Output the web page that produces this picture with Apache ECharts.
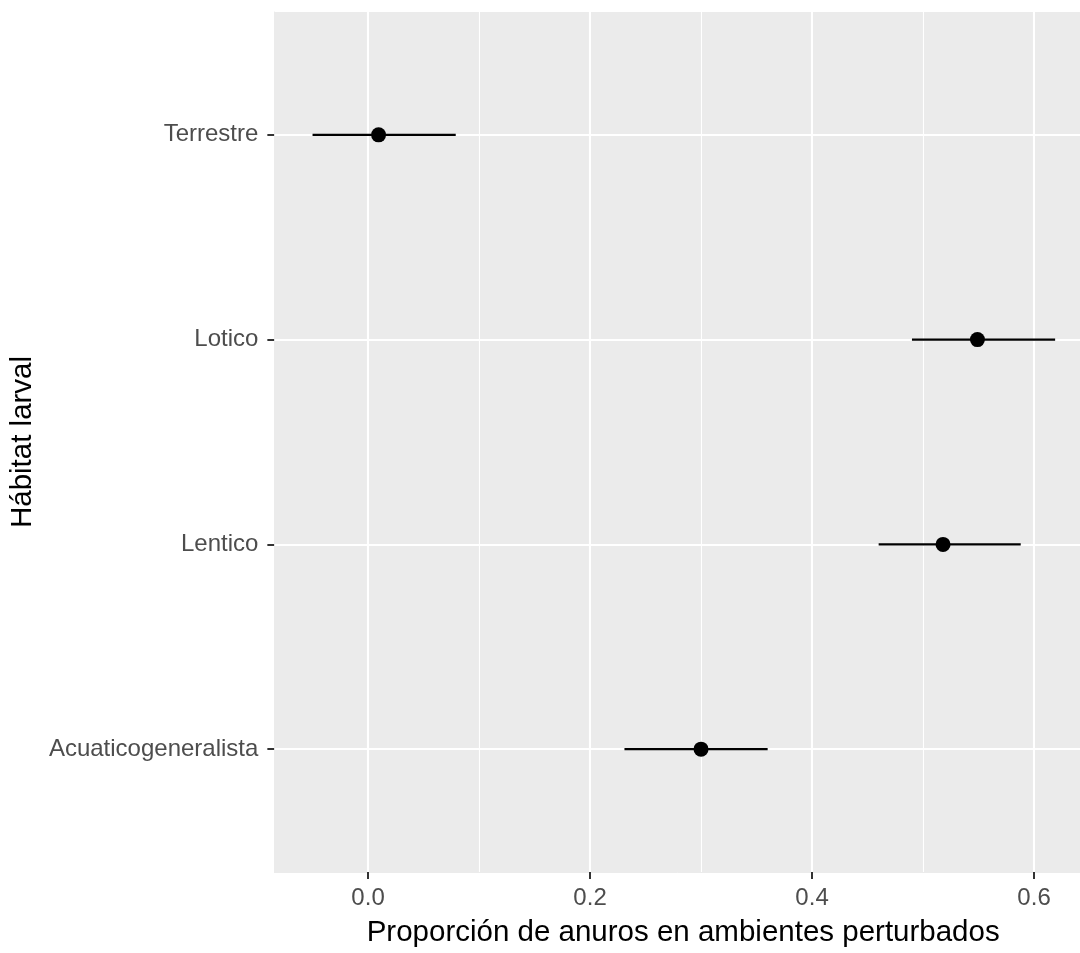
<!DOCTYPE html>
<html>
<head>
<meta charset="utf-8">
<script src="https://cdn.jsdelivr.net/npm/echarts@6/dist/echarts.min.js"></script>
<style>
html,body{margin:0;padding:0;background:#fff;}
#chart{width:1080px;height:953px;}
</style>
</head>
<body>
<div id="chart"></div>
<script>
// Data
const categories = ['Acuaticogeneralista', 'Lentico', 'Lotico', 'Terrestre'];
const estimates = [0.300, 0.518, 0.549, 0.0095];
const lowerCI = [0.231, 0.460, 0.490, -0.050];
const upperCI = [0.360, 0.588, 0.619, 0.079];
const xMajorTicks = [0, 0.2, 0.4, 0.6];
const xMinorTicks = [0.1, 0.3, 0.5];
const xTitle = 'Proporción de anuros en ambientes perturbados';
const yTitle = 'Hábitat larval';

const catPos = categories.map((c, i) => i + 1);
const pointData = estimates.map((v, i) => [v, catPos[i]]);
const barData = categories.map((c, i) => [lowerCI[i], upperCI[i], catPos[i]]);

const FONT = 'Liberation Sans, Arial, sans-serif';

const chart = echarts.init(document.getElementById('chart'), null, {renderer: 'canvas'});
chart.setOption({
  animation: false,
  backgroundColor: '#ffffff',
  grid: {
    left: 274, right: 0, top: 12, bottom: 78,
    show: true, backgroundColor: '#EBEBEB', borderWidth: 0
  },
  xAxis: {
    type: 'value',
    min: -0.0844, max: 0.6414,
    name: xTitle,
    nameLocation: 'middle',
    nameGap: 46,
    nameTextStyle: {fontFamily: FONT, fontSize: 29.5, color: '#000', padding: [0, 0, 0, 12]},
    axisLine: {show: true, onZero: false, lineStyle: {color: '#EBEBEB', width: 1}},
    axisTick: {show: true, inside: false, customValues: xMajorTicks, length: 7, lineStyle: {color: '#333333', width: 2}},
    axisLabel: {
      customValues: xMajorTicks,
      formatter: v => Number(v).toFixed(1),
      fontFamily: FONT, fontSize: 24, color: '#4D4D4D', margin: 14
    },
    splitLine: {show: false}
  },
  yAxis: {
    type: 'value',
    min: 0.4, max: 4.6,
    name: yTitle,
    nameLocation: 'middle',
    nameRotate: 90,
    nameGap: 236,
    nameTextStyle: {fontFamily: FONT, fontSize: 29.5, color: '#000'},
    axisLine: {show: true, onZero: false, lineStyle: {color: '#EBEBEB', width: 1}},
    axisTick: {show: true, inside: false, customValues: catPos, length: 7, lineStyle: {color: '#333333', width: 2}},
    axisLabel: {
      customValues: catPos,
      formatter: v => categories[Math.round(v) - 1] || '',
      fontFamily: FONT, fontSize: 24, color: '#4D4D4D', margin: 16
    },
    splitLine: {show: false}
  },
  series: [
    {
      type: 'custom',
      name: 'ci',
      z: 3,
      silent: true,
      data: barData,
      encode: {x: [0, 1], y: 2},
      renderItem: function (params, api) {
        const p1 = api.coord([api.value(0), api.value(2)]);
        const p2 = api.coord([api.value(1), api.value(2)]);
        return {
          type: 'line',
          shape: {x1: p1[0], y1: p1[1], x2: p2[0], y2: p2[1]},
          style: {stroke: '#000000', lineWidth: 2.3}
        };
      }
    },
    {
      type: 'scatter',
      name: 'estimate',
      z: 4,
      silent: true,
      symbol: 'circle',
      symbolSize: 15,
      itemStyle: {color: '#000000', opacity: 1},
      data: pointData,
      markLine: {
        silent: true,
        z: 1,
        symbol: ['none', 'none'],
        label: {show: false},
        emphasis: {disabled: true},
        animation: false,
        data: [].concat(
          xMinorTicks.map(v => ({xAxis: v, lineStyle: {color: '#FFFFFF', width: 1.1, type: 'solid'}})),
          xMajorTicks.map(v => ({xAxis: v, lineStyle: {color: '#FFFFFF', width: 2.1, type: 'solid'}})),
          catPos.map(v => ({yAxis: v, lineStyle: {color: '#FFFFFF', width: 2.1, type: 'solid'}}))
        )
      }
    }
  ]
});
</script>
</body>
</html>
